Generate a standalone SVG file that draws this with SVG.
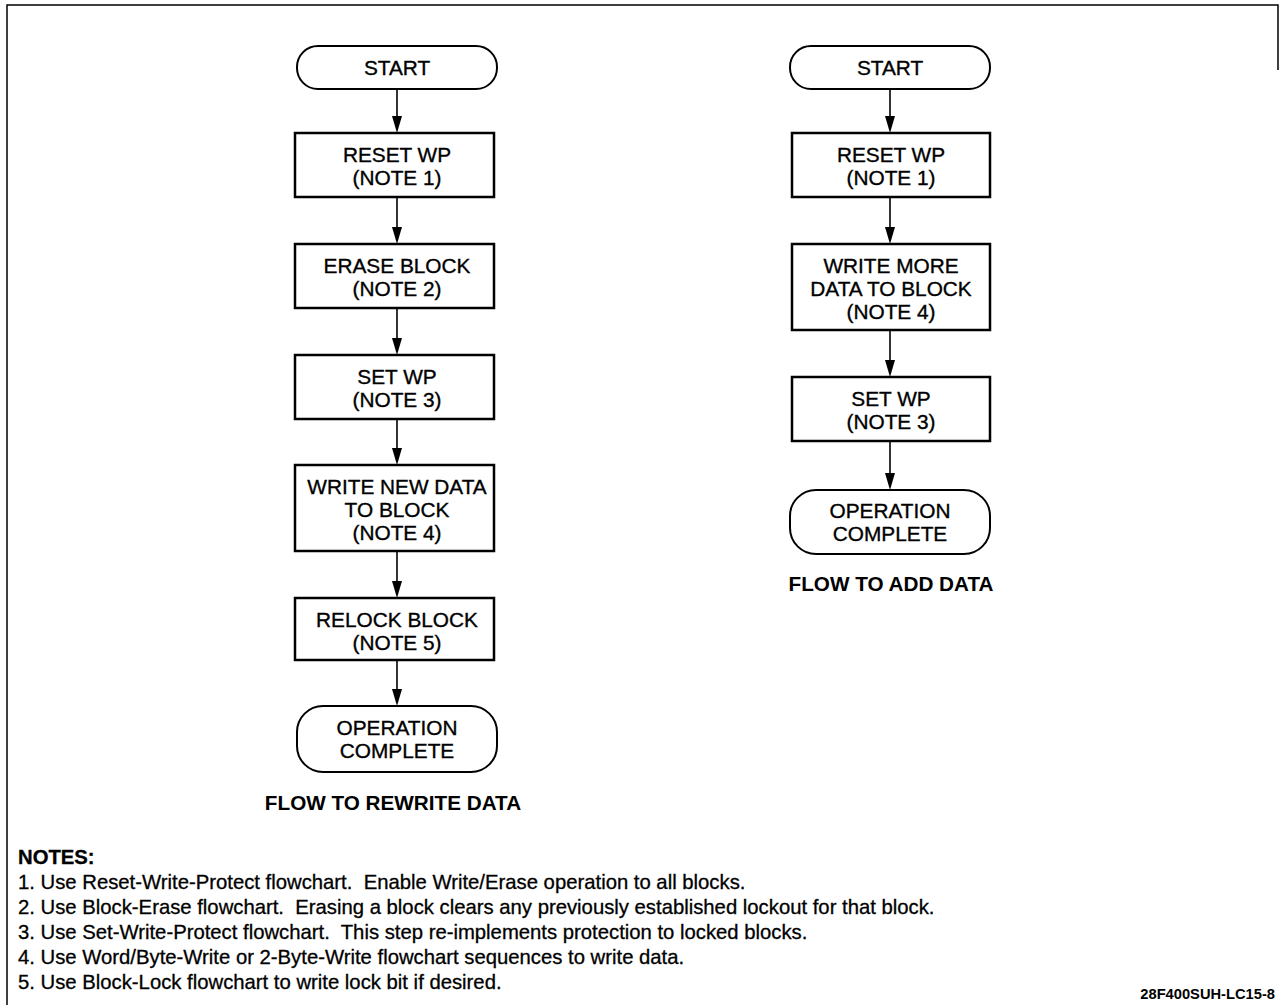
<svg xmlns="http://www.w3.org/2000/svg" width="1279" height="1005" viewBox="0 0 1279 1005">
<style>
.box{fill:#fff;stroke:#000;stroke-width:2.5}
.term{fill:#fff;stroke:#000;stroke-width:2}
.t{font-family:"Liberation Sans",Arial,sans-serif;font-size:20.8px;fill:#000;stroke:#000;stroke-width:0.35;text-anchor:middle}
.cap{font-family:"Liberation Sans",Arial,sans-serif;font-size:20.7px;font-weight:bold;fill:#000;text-anchor:middle}
.note{font-family:"Liberation Sans",Arial,sans-serif;font-size:20.3px;fill:#000;stroke:#000;stroke-width:0.3}
.conn{stroke:#000;stroke-width:1.6;fill:none}
.ah{fill:#000}
</style>
<rect width="1279" height="1005" fill="#fff"/>
<path d="M7,1005 L7,5 L1278,5 L1278,70" fill="none" stroke="#000" stroke-width="1.5"/>

<g id="connectors">
<line class="conn" x1="397" y1="89" x2="397" y2="118"/>
<path class="ah" d="M392,116 L402,116 L397,133 Z"/>
<line class="conn" x1="397" y1="197" x2="397" y2="229"/>
<path class="ah" d="M392,227 L402,227 L397,244 Z"/>
<line class="conn" x1="397" y1="308" x2="397" y2="340"/>
<path class="ah" d="M392,338 L402,338 L397,355 Z"/>
<line class="conn" x1="397" y1="419" x2="397" y2="450"/>
<path class="ah" d="M392,448 L402,448 L397,465 Z"/>
<line class="conn" x1="397" y1="551" x2="397" y2="583"/>
<path class="ah" d="M392,581 L402,581 L397,598 Z"/>
<line class="conn" x1="397" y1="660" x2="397" y2="691"/>
<path class="ah" d="M392,689 L402,689 L397,706 Z"/>

<line class="conn" x1="890" y1="89" x2="890" y2="118"/>
<path class="ah" d="M885,116 L895,116 L890,133 Z"/>
<line class="conn" x1="890" y1="197" x2="890" y2="229"/>
<path class="ah" d="M885,227 L895,227 L890,244 Z"/>
<line class="conn" x1="890" y1="330" x2="890" y2="362"/>
<path class="ah" d="M885,360 L895,360 L890,377 Z"/>
<line class="conn" x1="890" y1="441" x2="890" y2="475"/>
<path class="ah" d="M885,473 L895,473 L890,490 Z"/>
</g>

<g id="l-start">
<rect class="term" x="297" y="46" width="200" height="43" rx="21" ry="21"/>
<text class="t" x="397" y="75">START</text>
</g>
<g id="l-reset">
<rect class="box" x="295" y="133" width="199" height="64"/>
<text class="t" x="397" y="162">RESET WP</text>
<text class="t" x="397" y="185">(NOTE 1)</text>
</g>
<g id="l-erase">
<rect class="box" x="295" y="244" width="199" height="64"/>
<text class="t" x="397" y="273">ERASE BLOCK</text>
<text class="t" x="397" y="296">(NOTE 2)</text>
</g>
<g id="l-setwp">
<rect class="box" x="295" y="355" width="199" height="64"/>
<text class="t" x="397" y="384">SET WP</text>
<text class="t" x="397" y="407">(NOTE 3)</text>
</g>
<g id="l-write">
<rect class="box" x="295" y="465" width="199" height="86"/>
<text class="t" x="397" y="494">WRITE NEW DATA</text>
<text class="t" x="397" y="517">TO BLOCK</text>
<text class="t" x="397" y="540">(NOTE 4)</text>
</g>
<g id="l-relock">
<rect class="box" x="295" y="598" width="199" height="62"/>
<text class="t" x="397" y="627">RELOCK BLOCK</text>
<text class="t" x="397" y="650">(NOTE 5)</text>
</g>
<g id="l-end">
<rect class="term" x="297" y="706" width="200" height="66" rx="26" ry="26"/>
<text class="t" x="397" y="735">OPERATION</text>
<text class="t" x="397" y="758">COMPLETE</text>
</g>
<text class="cap" x="393" y="810">FLOW TO REWRITE DATA</text>

<g id="r-start">
<rect class="term" x="790" y="46" width="200" height="43" rx="21" ry="21"/>
<text class="t" x="890" y="75">START</text>
</g>
<g id="r-reset">
<rect class="box" x="792" y="133" width="198" height="64"/>
<text class="t" x="891" y="162">RESET WP</text>
<text class="t" x="891" y="185">(NOTE 1)</text>
</g>
<g id="r-write">
<rect class="box" x="792" y="244" width="198" height="86"/>
<text class="t" x="891" y="273">WRITE MORE</text>
<text class="t" x="891" y="296">DATA TO BLOCK</text>
<text class="t" x="891" y="319">(NOTE 4)</text>
</g>
<g id="r-setwp">
<rect class="box" x="792" y="377" width="198" height="64"/>
<text class="t" x="891" y="406">SET WP</text>
<text class="t" x="891" y="429">(NOTE 3)</text>
</g>
<g id="r-end">
<rect class="term" x="790" y="490" width="200" height="64" rx="26" ry="26"/>
<text class="t" x="890" y="518">OPERATION</text>
<text class="t" x="890" y="541">COMPLETE</text>
</g>
<text class="cap" x="891" y="591">FLOW TO ADD DATA</text>

<g id="notes">
<text class="note" x="18" y="864" style="font-weight:bold">NOTES:</text>
<text class="note" x="18" y="889" xml:space="preserve">1. Use Reset-Write-Protect flowchart.  Enable Write/Erase operation to all blocks.</text>
<text class="note" x="18" y="914" xml:space="preserve">2. Use Block-Erase flowchart.  Erasing a block clears any previously established lockout for that block.</text>
<text class="note" x="18" y="939" xml:space="preserve">3. Use Set-Write-Protect flowchart.  This step re-implements protection to locked blocks.</text>
<text class="note" x="18" y="964">4. Use Word/Byte-Write or 2-Byte-Write flowchart sequences to write data.</text>
<text class="note" x="18" y="989">5. Use Block-Lock flowchart to write lock bit if desired.</text>
</g>
<text x="1275" y="999" style="font-family:'Liberation Sans',Arial,sans-serif;font-size:14.7px;font-weight:bold;text-anchor:end">28F400SUH-LC15-8</text>
</svg>
